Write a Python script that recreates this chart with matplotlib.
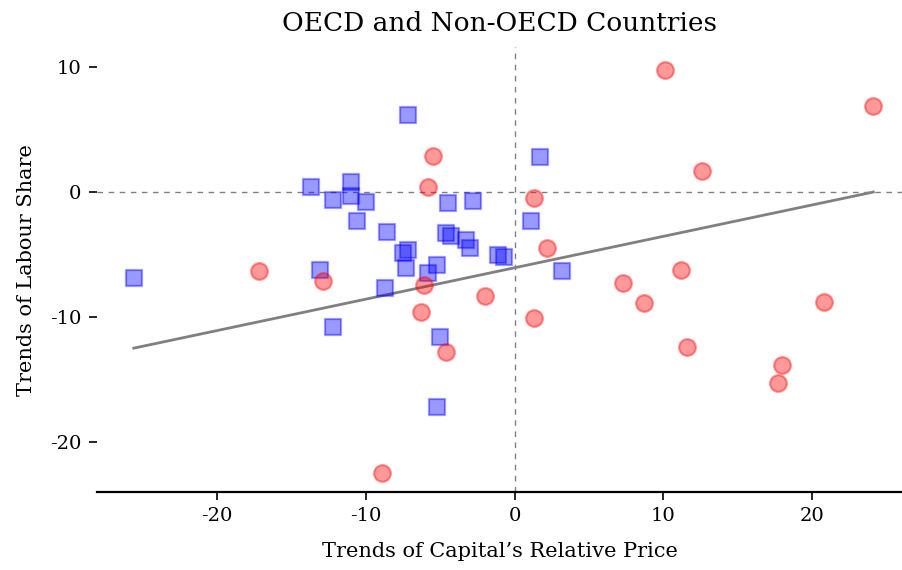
import numpy as np
import matplotlib
matplotlib.use('Agg')
import matplotlib.pyplot as plt

# ## Data
oecd_x = [-25.6, -7.2, 1.7, -13.7, -11.0, -12.2, -11.0, -10.0, -10.6, -8.6,
          -4.5, -2.8, 1.1, -4.6, -4.3, -3.3, -3.0, -7.2, -7.5, -1.1,
          -0.7, -7.3, -5.2, -5.8, 3.2, -8.7, -13.1, -12.2, -5.0, -5.2]
oecd_y = [-6.9, 6.2, 2.8, 0.4, 0.8, -0.6, -0.3, -0.8, -2.3, -3.2,
          -0.9, -0.7, -2.3, -3.3, -3.5, -3.8, -4.5, -4.6, -4.9, -5.0,
          -5.2, -6.1, -5.8, -6.5, -6.3, -7.7, -6.2, -10.8, -11.6, -17.2]

non_x = [-17.2, -12.9, -5.5, -5.8, 1.3, 2.2, -6.1, -2.0, -6.3, 1.3, -4.6,
         -8.9, 10.1, 24.1, 12.6, 11.2, 7.3, 8.7, 20.8, 11.6, 18.0, 17.7]
non_y = [-6.3, -7.1, 2.9, 0.4, -0.5, -4.5, -7.4, -8.3, -9.6, -10.1, -12.8,
         -22.5, 9.8, 6.9, 1.7, -6.2, -7.3, -8.9, -8.8, -12.4, -13.8, -15.3]

# ## Trend line as drawn in the reference
fit_slope = 0.2515
fit_icpt = -6.05

all_x = np.array(oecd_x + non_x)
xs = np.array([all_x.min(), all_x.max()])

plt.rcParams['font.family'] = ['DejaVu Serif']
plt.rcParams['axes.unicode_minus'] = False

fig = plt.figure(figsize=(9.03, 5.70), dpi=100)
ax = fig.add_axes([0.107, 0.137, 0.893, 0.78])

ax.axhline(0, color='gray', lw=1, ls='--', dashes=(4, 4), zorder=1)
ax.axvline(0, color='gray', lw=1, ls='--', dashes=(4, 4), zorder=1)
ax.scatter(oecd_x, oecd_y, marker='s', s=145, color='blue', alpha=0.4, linewidths=1.6, zorder=3)
ax.scatter(non_x, non_y, marker='o', s=145, color='red', alpha=0.4, linewidths=1.6, zorder=3)
ax.plot(xs, fit_slope * xs + fit_icpt, color='gray', lw=2, zorder=2)

ax.set_xlim(-28.1, 26.1)
ax.set_ylim(-24.0, 11.6)
ax.set_xticks([-20, -10, 0, 10, 20])
ax.set_yticks([-20, -10, 0, 10])
for s in ['top', 'right', 'left']:
    ax.spines[s].set_visible(False)
ax.spines['bottom'].set_linewidth(1.6)
ax.tick_params(axis='both', labelsize=14, width=1.2, length=6, pad=5)

ax.set_title('OECD and Non-OECD Countries', fontsize=19, pad=12)
ax.set_xlabel("Trends of Capital\u2019s Relative Price", fontsize=15, labelpad=12)
ax.set_ylabel('Trends of Labour Share', fontsize=15, labelpad=10)

plt.savefig('out.png', dpi=100)
plt.close()
